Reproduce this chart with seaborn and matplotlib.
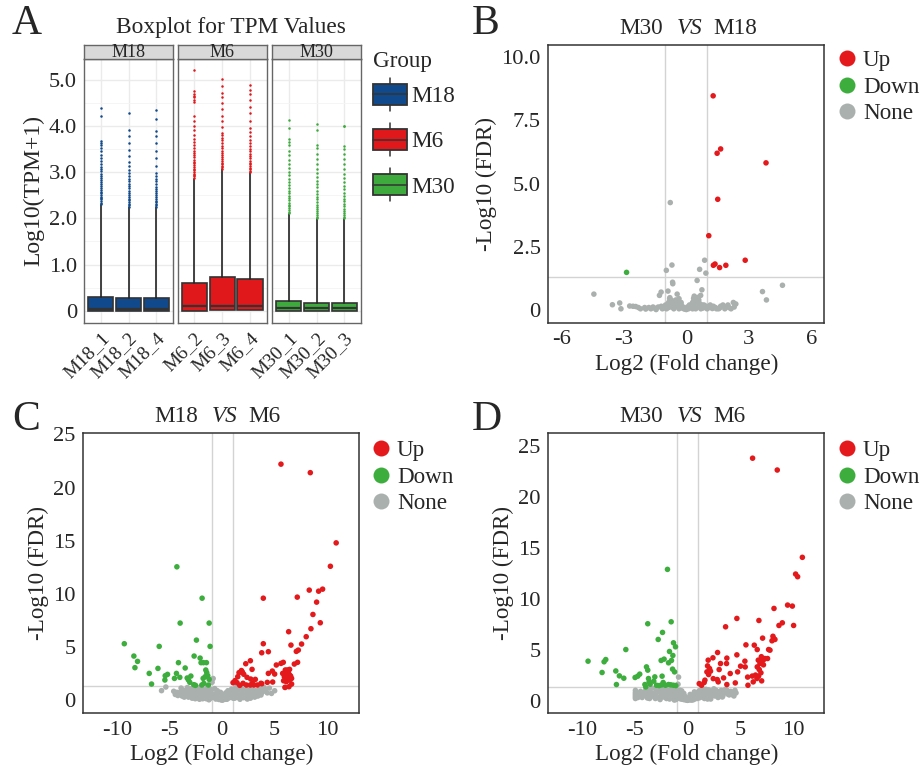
import numpy as np
import pandas as pd
import matplotlib
matplotlib.use("Agg")
import matplotlib.pyplot as plt
import seaborn as sns
from matplotlib.lines import Line2D
from matplotlib.patches import Patch, Rectangle
from matplotlib.legend_handler import HandlerBase
from matplotlib.ticker import MultipleLocator

# ---- panel A: boxplot summary values (log10 TPM+1) ----
groups = ["M18", "M6", "M30"]
samples = {"M18": ["M18_1", "M18_2", "M18_4"],
           "M6": ["M6_2", "M6_3", "M6_4"],
           "M30": ["M30_1", "M30_2", "M30_3"]}
box_q1 = {"M18": [0, 0, 0], "M6": [0, 0.02, 0.02], "M30": [0, 0, 0]}
box_med = {"M18": [0.04, 0.04, 0.04], "M6": [0.11, 0.11, 0.11], "M30": [0.05, 0.05, 0.05]}
box_q3 = {"M18": [0.30, 0.28, 0.28], "M6": [0.61, 0.73, 0.68], "M30": [0.22, 0.17, 0.17]}
box_whishi = {"M18": [2.29, 2.24, 2.24], "M6": [2.86, 3.06, 2.98], "M30": [2.09, 1.99, 1.99]}

m18_1_out = [2.31, 2.34, 2.37, 2.41, 2.44, 2.47, 2.51, 2.55, 2.58, 2.62, 2.66, 2.70, 2.74, 2.79, 2.83,
             2.88, 2.92, 2.97, 3.02, 3.07, 3.12, 3.18, 3.24, 3.31, 3.38, 3.45, 3.52, 3.58, 3.63, 3.67, 4.21, 4.39]
m18_2_out = [2.25, 2.28, 2.32, 2.35, 2.39, 2.43, 2.47, 2.51, 2.56, 2.60, 2.65, 2.70, 2.75, 2.80, 2.86,
             2.92, 2.98, 3.05, 3.13, 3.22, 3.35, 3.49, 3.64, 3.78, 3.92, 4.29]
m18_4_out = [2.25, 2.28, 2.31, 2.35, 2.38, 2.42, 2.46, 2.50, 2.54, 2.59, 2.64, 2.69, 2.74, 2.80, 2.86,
             2.91, 2.99, 3.13, 3.31, 3.47, 3.64, 3.78, 3.89, 4.16, 4.34]
m6_2_out = [2.88, 2.91, 2.94, 2.97, 3.00, 3.04, 3.07, 3.11, 3.15, 3.19, 3.23, 3.27, 3.32, 3.37, 3.42,
            3.47, 3.53, 3.59, 3.65, 3.71, 3.80, 3.92, 4.01, 4.12, 4.22, 4.52, 4.57, 4.62, 4.66, 4.70, 4.75, 5.22]
m6_3_out = [3.08, 3.11, 3.14, 3.17, 3.21, 3.25, 3.29, 3.33, 3.37, 3.42, 3.47, 3.52, 3.57, 3.63, 3.69,
            3.75, 3.81, 3.86, 3.97, 4.10, 4.22, 4.36, 4.50, 4.63, 4.72, 4.86, 5.02]
m6_4_out = [3.00, 3.03, 3.06, 3.10, 3.13, 3.17, 3.21, 3.25, 3.30, 3.35, 3.40, 3.45, 3.51, 3.57, 3.63,
            3.70, 3.78, 3.87, 3.96, 4.12, 4.29, 4.42, 4.57, 4.69, 4.79, 4.88]
m30_1_out = [2.11, 2.14, 2.18, 2.22, 2.26, 2.30, 2.34, 2.39, 2.44, 2.49, 2.54, 2.60, 2.66, 2.72, 2.79,
             2.86, 2.93, 3.01, 3.09, 3.18, 3.27, 3.37, 3.47, 3.58, 3.65, 3.71, 3.96, 4.14]
m30_2_out = [2.01, 2.04, 2.08, 2.12, 2.16, 2.20, 2.25, 2.30, 2.35, 2.41, 2.47, 2.53, 2.60, 2.67, 2.74,
             2.82, 2.90, 2.99, 3.08, 3.18, 3.29, 3.40, 3.52, 3.60, 3.91, 4.05]
m30_3_out = [2.01, 2.04, 2.08, 2.12, 2.16, 2.21, 2.26, 2.31, 2.37, 2.43, 2.49, 2.56, 2.63, 2.71, 2.79,
             2.88, 2.97, 3.07, 3.17, 3.28, 3.39, 3.50, 3.56, 4.00, 4.01]
outliers = {"M18": [m18_1_out, m18_2_out, m18_4_out],
            "M6": [m6_2_out, m6_3_out, m6_4_out],
            "M30": [m30_1_out, m30_2_out, m30_3_out]}
group_colors = {"M18": "#114A8C", "M6": "#E0181B", "M30": "#3EAA3E"}

# ---- volcano points (log2 FC, -log10 FDR) ----
b_up = [(1.29, 8.47), (1.65, 6.37), (1.48, 6.20), (3.83, 5.82), (1.51, 4.38), (1.08, 2.94), (2.83, 1.97),
        (1.30, 1.77), (1.38, 1.82), (1.60, 1.68), (1.90, 1.77)]
b_down = [(-2.87, 1.49)]
b_none = [(-0.77, 4.25), (-0.69, 1.78), (-0.96, 1.57), (0.88, 1.97), (0.64, 1.61), (0.94, 1.46), (0.52, 1.17),
          (-0.66, 1.10), (-0.65, 1.04), (0.75, 0.80), (0.69, 0.58), (-0.88, 0.75), (-1.21, 0.71), (-1.29, 0.58),
          (-0.79, 0.49), (-0.44, 0.63), (-4.44, 0.63), (4.62, 0.98), (3.66, 0.73), (3.85, 0.40), (-3.55, 0.21),
          (-3.20, 0.28), (-3.14, 0.05), (-2.72, 0.16), (-2.56, 0.15), (-2.43, 0.14), (-2.20, 0.05), (-1.95, 0.04),
          (-1.70, 0.05), (-1.50, 0.07), (-1.35, 0.12), (-1.20, 0.15), (-1.05, 0.10), (-0.90, 0.20), (-0.75, 0.28),
          (-0.60, 0.33), (-0.50, 0.25), (-0.40, 0.30), (-0.30, 0.15), (-0.20, 0.08), (-0.10, 0.04), (0.00, 0.02),
          (0.10, 0.05), (0.20, 0.10), (0.30, 0.30), (0.35, 0.46), (0.42, 0.40), (0.50, 0.35), (0.55, 0.20),
          (0.65, 0.12), (0.80, 0.08), (0.95, 0.15), (1.10, 0.10), (1.25, 0.06), (1.40, 0.10), (1.55, 0.05),
          (1.76, 0.20), (1.90, 0.12), (2.05, 0.10), (2.26, 0.30), (2.38, 0.24), (2.30, 0.12), (-0.55, 0.12),
          (-0.95, 0.05), (0.45, 0.05), (0.75, 0.20), (-0.35, 0.45), (-1.60, 0.12), (1.65, 0.15), (-2.00, 0.10),
          (0.25, 0.20), (-0.65, 0.18), (0.40, 0.25), (-0.25, 0.22), (0.60, 0.28), (-0.85, 0.10),
          (-1.15, 0.05), (-1.00, 0.20), (-0.85, 0.30), (-0.70, 0.12), (-0.60, 0.05), (-0.45, 0.15), (-0.35, 0.05),
          (-0.15, 0.12), (0.05, 0.12), (0.15, 0.20), (0.30, 0.05), (0.35, 0.15), (0.45, 0.30), (0.50, 0.10),
          (0.60, 0.40), (0.70, 0.05), (0.85, 0.20), (1.00, 0.05), (1.15, 0.20), (1.30, 0.15), (1.45, 0.05),
          (1.60, 0.08), (1.85, 0.05), (2.00, 0.20), (2.15, 0.05), (-1.45, 0.02), (-1.80, 0.10), (-2.30, 0.10),
          (-0.80, 0.45), (-0.50, 0.40), (0.55, 0.50), (0.65, 0.25), (-0.25, 0.30), (0.38, 0.55), (-0.70, 0.38)]

c_up = [(5.6, 22.2), (8.39, 21.4), (10.85, 14.8), (10.3, 12.6), (8.29, 10.36), (9.18, 10.26), (9.56, 10.45),
        (3.92, 9.6), (7.15, 9.7), (8.99, 9.23), (8.64, 8.07), (9.34, 7.29), (8.45, 6.73), (6.33, 6.45),
        (8.0, 5.98), (3.92, 5.32), (7.56, 5.29), (6.55, 5.19), (7.25, 4.72), (7.06, 4.6), (3.77, 4.47),
        (4.4, 4.57), (7.18, 3.57), (6.87, 3.41), (5.82, 3.57), (5.6, 3.47), (5.16, 3.32), (2.69, 3.72),
        (2.25, 3.44), (4.78, 2.75), (2.85, 2.91), (1.84, 2.8), (1.93, 2.65), (1.61, 2.6), (2.06, 2.45),
        (1.49, 2.22), (2.37, 2.16), (2.72, 2.0), (3.16, 1.97), (4.4, 2.53), (5.0, 2.47), (4.81, 1.72),
        (4.3, 1.69), (3.77, 1.56), (6.01, 2.85), (6.2, 2.85), (6.42, 2.91), (6.11, 2.53), (6.3, 2.6),
        (6.42, 2.38), (5.92, 2.22), (6.11, 2.06), (6.27, 2.16), (6.52, 2.28), (6.61, 2.06), (5.85, 1.84),
        (6.11, 1.75), (6.42, 1.91), (6.61, 1.53), (6.36, 1.28), (5.98, 1.22), (5.76, 2.53), (1.04, 1.66),
        (1.23, 1.85), (1.42, 1.66), (1.68, 1.41), (1.99, 1.6), (2.31, 1.44), (2.69, 1.44), (2.88, 1.6),
        (3.04, 1.44), (3.35, 1.44), (3.7, 1.6)]
c_down = [(-4.3, 12.55), (-1.9, 9.6), (-3.99, 7.26), (-1.23, 7.26), (-9.3, 5.32), (-5.98, 5.07), (-1.14, 5.07),
          (-2.44, 5.66), (-8.39, 4.16), (-8.04, 3.66), (-8.29, 3.07), (-4.15, 3.54), (-2.66, 4.16), (-2.09, 3.97),
          (-2.0, 3.54), (-1.77, 3.54), (-1.49, 3.54), (-6.1, 3.0), (-6.93, 2.53), (-6.71, 1.53), (-3.51, 3.04),
          (-4.34, 2.53), (-4.02, 2.16), (-4.53, 2.06), (-5.19, 2.44), (-5.41, 2.31), (-5.44, 1.91), (-3.32, 2.1),
          (-3.2, 1.91), (-2.97, 2.28), (-3.07, 1.69), (-2.69, 1.47), (-2.53, 1.41), (-1.55, 2.85), (-1.46, 2.6),
          (-1.61, 2.22), (-1.8, 2.06), (-1.36, 2.31), (-1.23, 1.97), (-1.74, 1.59), (-1.93, 1.44), (-1.3, 1.44)]
c_none = [(-5.76, 0.91), (-5.35, 1.25), (-4.45, 0.55), (-4.2, 0.45), (-4.3, 0.75), (-3.9, 1.15), (-3.7, 0.95),
          (-3.5, 0.7), (-3.3, 1.2), (-3.2, 0.5), (-3.0, 0.85), (-2.9, 1.1), (-2.8, 0.4), (-2.6, 0.7), (-2.5, 1.0),
          (-2.4, 0.3), (-2.3, 0.55), (-2.2, 1.2), (-2.1, 0.8), (-2.0, 0.25), (-1.9, 0.5), (-1.8, 1.0), (-1.7, 0.35),
          (-1.6, 0.7), (-1.5, 0.15), (-1.4, 1.25), (-1.3, 0.45), (-1.2, 0.9), (-1.1, 0.2), (-1.0, 0.6),
          (-0.95, 1.7), (-0.85, 2.05), (-0.8, 0.35), (-0.7, 1.1), (-0.6, 0.12), (-0.5, 0.5), (-0.4, 0.25),
          (-0.3, 0.08), (-0.2, 0.3), (-0.1, 0.05), (0.0, 0.02), (0.1, 0.06), (0.2, 0.2), (0.3, 0.1), (0.4, 0.35),
          (0.5, 0.15), (0.6, 0.5), (0.7, 0.25), (0.8, 0.7), (0.9, 1.05), (1.0, 0.4), (1.1, 0.8), (1.2, 0.2),
          (1.3, 1.2), (1.4, 0.55), (1.5, 0.3), (1.6, 0.9), (1.8, 0.45), (1.9, 1.1), (2.0, 0.65), (2.2, 0.3),
          (2.3, 1.0), (2.5, 0.5), (2.6, 0.8), (2.8, 1.15), (3.0, 0.6), (3.2, 0.9), (3.4, 0.4), (3.6, 1.1),
          (3.8, 0.75), (4.1, 0.95), (4.5, 1.15), (4.7, 0.65), (5.0, 0.9), (6.0, 1.2), (-2.7, 1.25), (-1.85, 0.15),
          (-0.45, 0.9), (0.35, 0.7), (1.7, 0.1), (2.7, 0.2), (-3.6, 0.3), (-2.55, 0.15), (-1.25, 0.05),
          (1.25, 0.6), (2.4, 0.12), (3.1, 0.3), (-0.15, 0.55), (0.55, 0.9), (-4.0, 0.6),
          (-3.8, 0.4), (-3.4, 0.95), (-3.1, 0.65), (-2.85, 0.2), (-2.65, 0.95), (-2.45, 0.6), (-2.25, 0.85),
          (-2.05, 0.45), (-1.95, 1.15), (-1.75, 0.65), (-1.65, 0.25), (-1.55, 0.95), (-1.45, 0.5), (-1.35, 0.2),
          (-1.15, 0.65), (-1.05, 1.0), (-0.9, 0.3), (-0.75, 0.6), (-0.65, 0.3), (-0.55, 0.2), (-0.35, 0.4),
          (-0.25, 0.1), (-0.05, 0.15), (0.05, 0.3), (0.15, 0.08), (0.25, 0.4), (0.45, 0.1), (0.65, 0.4),
          (0.75, 0.55), (0.85, 0.3), (0.95, 0.6), (1.05, 0.2), (1.15, 1.0), (1.35, 0.35), (1.45, 0.8),
          (1.55, 0.6), (1.65, 1.15), (1.75, 0.4), (1.85, 0.75), (2.05, 0.25), (2.15, 0.9), (2.35, 0.55),
          (2.45, 1.2), (2.55, 0.3), (2.75, 0.6), (2.9, 0.95), (3.05, 0.45), (3.3, 0.65), (3.5, 0.95), (3.7, 0.5),
          (3.9, 0.85), (4.3, 0.7), (-4.6, 0.85), (-3.95, 0.8), (-3.2, 0.3), (-2.15, 0.1), (-0.15, 0.75),
          (0.15, 0.5), (1.95, 0.35), (4.0, 1.2)]

d_up = [(6.17, 23.76), (8.51, 22.6), (10.89, 14.04), (10.25, 12.4), (10.44, 12.14), (9.49, 9.36), (9.94, 9.26),
        (8.2, 9.03), (4.68, 8.05), (6.77, 7.85), (3.61, 7.23), (8.99, 7.62), (8.67, 7.36), (10.06, 7.36),
        (8.1, 6.3), (8.16, 6.09), (8.29, 5.99), (8.01, 5.86), (7.12, 6.12), (5.54, 5.46), (6.33, 5.43),
        (6.61, 5.0), (7.69, 5.0), (7.82, 4.94), (2.85, 4.71), (2.41, 4.19), (1.96, 3.96), (3.73, 4.16),
        (3.70, 3.63), (3.13, 3.63), (3.0, 3.04), (4.68, 4.48), (5.44, 3.86), (5.03, 3.37), (5.47, 3.3),
        (4.75, 2.81), (4.05, 2.65), (3.42, 2.22), (1.9, 3.4), (2.09, 3.14), (1.84, 2.81), (2.0, 2.55),
        (2.18, 2.88), (2.82, 2.06), (2.91, 1.83), (2.44, 2.15), (1.65, 2.0), (1.58, 1.77), (1.33, 1.5),
        (1.11, 1.66), (3.73, 1.57), (4.53, 1.73), (5.73, 1.5), (5.7, 2.3), (6.14, 2.4), (6.23, 1.83),
        (6.58, 2.16), (6.74, 2.39), (7.03, 1.93), (6.96, 2.72), (6.87, 3.63), (7.03, 3.86), (7.18, 3.96),
        (7.34, 4.12), (7.59, 4.12), (6.71, 3.96), (6.61, 3.3), (6.8, 3.04), (6.45, 2.5), (7.2, 3.5), (7.0, 4.3)]
d_down = [(-1.9, 12.86), (-3.77, 7.53), (-1.55, 7.72), (-2.37, 6.68), (-2.78, 5.99), (-5.85, 5.0), (-1.33, 5.66),
          (-1.14, 5.27), (-1.71, 4.81), (-1.39, 4.42), (-1.52, 3.93), (-2.5, 3.93), (-2.22, 4.06), (-1.8, 3.7),
          (-3.89, 3.3), (-3.77, 2.98), (-1.42, 3.08), (-1.23, 2.81), (-9.43, 3.86), (-7.75, 4.02), (-7.91, 3.8),
          (-8.1, 2.75), (-6.8, 2.9), (-6.46, 2.42), (-6.04, 2.19), (-6.74, 1.57), (-4.97, 2.26), (-4.53, 2.59),
          (-4.72, 2.39), (-3.7, 2.16), (-3.1, 2.32), (-3.64, 1.83), (-3.2, 1.9), (-2.41, 2.39), (-4.04, 1.57),
          (-3.96, 1.34), (-3.54, 1.6), (-2.94, 1.5), (-2.69, 1.47), (-2.44, 1.54), (-2.09, 1.5), (-1.8, 1.57),
          (-1.58, 1.54), (-1.33, 1.5), (-1.11, 1.47), (-2.31, 1.77)]
d_none = [(-4.94, 0.2), (-4.94, 0.35), (-4.94, 0.5), (-4.94, 0.65), (-4.94, 0.8), (-4.94, 1.0), (-4.6, 0.55),
          (-4.3, 0.3), (-4.1, 0.8), (-3.9, 0.5), (-3.7, 1.1), (-3.5, 0.35), (-3.3, 0.7), (-3.1, 1.2), (-3.0, 0.45),
          (-2.8, 0.9), (-2.7, 0.25), (-2.5, 0.6), (-2.4, 1.15), (-2.3, 0.35), (-2.1, 0.8), (-2.0, 0.2), (-1.9, 1.0),
          (-1.8, 0.5), (-1.7, 0.15), (-1.6, 0.7), (-1.5, 1.2), (-1.4, 0.3), (-1.3, 0.9), (-1.2, 0.5), (-1.1, 0.1),
          (-1.0, 0.75), (-0.9, 1.6), (-0.85, 2.3), (-0.8, 0.3), (-0.7, 1.0), (-0.6, 0.15), (-0.5, 0.5),
          (-0.4, 0.25), (-0.3, 0.08), (-0.2, 0.35), (-0.1, 0.05), (0.0, 0.02), (0.1, 0.1), (0.2, 0.3), (0.3, 0.05),
          (0.4, 0.2), (0.5, 0.45), (0.6, 0.1), (0.7, 0.3), (0.8, 0.65), (0.9, 0.2), (1.0, 0.5), (1.1, 0.95),
          (1.2, 0.3), (1.3, 0.7), (1.4, 1.2), (1.5, 0.45), (1.6, 0.2), (1.7, 0.85), (1.8, 0.55), (2.0, 1.05),
          (2.1, 0.35), (2.3, 0.7), (2.5, 1.15), (2.6, 0.45), (2.8, 0.9), (3.0, 0.6), (3.2, 1.0), (3.4, 0.75),
          (3.6, 1.1), (3.8, 0.65), (4.1, 0.9), (4.3, 0.55), (4.6, 0.75), (4.5, 1.0), (-2.2, 1.25), (-3.6, 0.2),
          (0.25, 0.6), (-0.35, 0.7), (1.9, 0.15), (2.9, 0.3), (-1.25, 0.05), (-2.6, 0.1), (0.65, 0.85),
          (-0.55, 0.95), (2.2, 0.15), (3.3, 0.35),
          (-4.7, 0.3), (-4.45, 0.9), (-4.2, 0.55), (-3.95, 1.05), (-3.8, 0.25), (-3.6, 0.75), (-3.4, 1.2),
          (-3.2, 0.5), (-2.95, 0.75), (-2.85, 1.15), (-2.6, 0.35), (-2.45, 0.85), (-2.25, 0.55), (-2.05, 1.1),
          (-1.95, 0.3), (-1.75, 0.6), (-1.65, 1.0), (-1.45, 0.4), (-1.35, 0.7), (-1.15, 0.3), (-1.05, 1.1),
          (-0.95, 0.5), (-0.75, 0.2), (-0.65, 0.6), (-0.45, 0.12), (-0.25, 0.4), (-0.05, 0.2), (0.05, 0.05),
          (0.15, 0.25), (0.35, 0.35), (0.45, 0.05), (0.55, 0.2), (0.75, 0.5), (0.85, 0.4), (0.95, 0.8),
          (1.05, 0.25), (1.15, 0.55), (1.25, 1.0), (1.35, 0.4), (1.55, 0.75), (1.65, 0.35), (1.75, 1.1),
          (1.95, 0.6), (2.15, 0.8), (2.25, 0.4), (2.45, 0.6), (2.7, 1.0), (2.85, 0.55), (3.1, 0.8), (3.35, 0.45),
          (3.55, 0.8), (3.75, 1.0), (3.95, 0.55), (4.2, 0.8), (4.4, 0.45), (-0.15, 0.1), (0.2, 0.15),
          (-1.85, 0.8), (2.4, 0.95), (-3.05, 0.2)]

volcano_colors = {"Up": "#E3191C", "Down": "#3DAE3D", "None": "#A9B0AE"}

sns.set_style("white")
plt.rcParams["font.family"] = ["Liberation Serif", "DejaVu Serif"]
plt.rcParams["axes.unicode_minus"] = False

TICK = 16.2
LAB = 16.7

fig = plt.figure(figsize=(9.21, 7.7), dpi=100)
W, H = 921.0, 770.0


def fx(px):
    return px / W


def fy(py):
    return 1 - py / H


# ---------------- panel A ----------------
facet_left = [84, 177.7, 272]
facet_w = 89
a_top, a_bot = 58.7, 322.7
for gi, g in enumerate(groups):
    ax = fig.add_axes([fx(facet_left[gi]), fy(a_bot), fx(facet_w), (a_bot - a_top) / H])
    stats = []
    for si, s in enumerate(samples[g]):
        stats.append(dict(label=s, q1=box_q1[g][si], med=box_med[g][si], q3=box_q3[g][si],
                          whislo=box_q1[g][si], whishi=box_whishi[g][si], fliers=outliers[g][si]))
    col = group_colors[g]
    ax.bxp(stats, positions=[1, 2, 3], widths=0.9, patch_artist=True, showcaps=False,
           boxprops=dict(facecolor=col, edgecolor="#333333", linewidth=1.2),
           medianprops=dict(color="#333333", linewidth=1.6),
           whiskerprops=dict(color="#222222", linewidth=1.2),
           flierprops=dict(marker="o", markersize=1.8, markerfacecolor=col, markeredgecolor="none"))
    ax.set_xlim(0.4, 3.6)
    ax.set_ylim(-0.26, 5.46)
    ax.set_axisbelow(True)
    ax.yaxis.set_major_locator(MultipleLocator(1))
    ax.yaxis.set_minor_locator(MultipleLocator(0.5))
    ax.grid(True, which="major", color="#EBEBEB", linewidth=1.0)
    ax.grid(True, which="minor", axis="y", color="#F4F4F4", linewidth=0.6)
    ax.tick_params(which="minor", length=0)
    ax.tick_params(which="major", length=3, width=0.9, color="#333333", labelsize=14, pad=2)
    ax.set_xticks([1, 2, 3])
    ax.set_xticklabels(samples[g], rotation=45, ha="right", rotation_mode="anchor")
    for sp in ax.spines.values():
        sp.set_color("#666666")
        sp.set_linewidth(1.0)
    if gi == 0:
        ax.set_yticks([0, 1, 2, 3, 4, 5])
        ax.set_yticklabels(["0", "1.0", "2.0", "3.0", "4.0", "5.0"], fontsize=TICK)
        ax.set_ylabel("Log10(TPM+1)", fontsize=17, labelpad=3)
    else:
        ax.tick_params(axis="y", labelleft=False, length=0)
    # facet strip
    sax = fig.add_axes([fx(facet_left[gi]), fy(a_top), fx(facet_w), 14 / H])
    sax.set_facecolor("#D9D9D9")
    sax.set_xticks([])
    sax.set_yticks([])
    for sp in sax.spines.values():
        sp.set_color("#666666")
        sp.set_linewidth(1.0)
    sax.text(0.5, 0.42, g, ha="center", va="center", fontsize=13, transform=sax.transAxes)

fig.text(fx(231), fy(27), "Boxplot for TPM Values", ha="center", va="center", fontsize=16.8)


class BoxKey(HandlerBase):
    def create_artists(self, legend, orig_handle, xdescent, ydescent, width, height, fontsize, trans):
        cx = -xdescent + width / 2
        y0 = -ydescent
        whisk = Line2D([cx, cx], [y0 - 0.3 * height, y0 + 1.3 * height], color="#333333", lw=1.1,
                       transform=trans)
        rect = Rectangle((-xdescent, y0), width, height, facecolor=orig_handle.get_facecolor(),
                         edgecolor="#333333", lw=1.3, transform=trans)
        med = Line2D([-xdescent, -xdescent + width], [y0 + height / 2] * 2, color="#333333", lw=1.1,
                     transform=trans)
        return [whisk, rect, med]


fig.text(fx(373), fy(61), "Group", ha="left", va="center", fontsize=LAB)
box_handles = [Patch(facecolor=group_colors[g]) for g in groups]
fig.legend(box_handles, groups, loc="upper left", bbox_to_anchor=(fx(373), fy(84)),
           handler_map={Patch: BoxKey()}, frameon=False, fontsize=LAB,
           handlelength=1.47, handleheight=1.0, labelspacing=0.94,
           handletextpad=0.2, borderpad=0, borderaxespad=0)


# ---------------- volcano panels ----------------
def volcano(rect, up, down, none, xlim, ylim, yticks, yticklabels, xticks, left_name, right_name, leg_pos):
    ax = fig.add_axes(rect)
    rows = [(x, y, "None") for x, y in none] + [(x, y, "Down") for x, y in down] + \
           [(x, y, "Up") for x, y in up]
    df = pd.DataFrame(rows, columns=["logFC", "logFDR", "sig"])
    ax.axvline(-1, color="#D3D3D3", lw=1.0, zorder=0)
    ax.axvline(1, color="#D3D3D3", lw=1.0, zorder=0)
    ax.axhline(-np.log10(0.05), color="#D3D3D3", lw=1.0, zorder=0)
    sns.scatterplot(data=df, x="logFC", y="logFDR", hue="sig", hue_order=["None", "Down", "Up"],
                    palette=volcano_colors, s=16, linewidth=0, legend=False, ax=ax, zorder=2)
    ax.set_xlim(*xlim)
    ax.set_ylim(*ylim)
    ax.set_xticks(xticks)
    ax.set_xticklabels([str(t) for t in xticks])
    ax.set_yticks(yticks)
    ax.set_yticklabels(yticklabels)
    ax.tick_params(length=3.5, width=1.0, color="#333333", labelsize=TICK, pad=2)
    for sp in ax.spines.values():
        sp.set_color("#333333")
        sp.set_linewidth(1.1)
    ax.set_xlabel("Log2 (Fold change)", fontsize=LAB, labelpad=3)
    ax.set_ylabel("-Log10 (FDR)", fontsize=LAB, labelpad=3)
    ax.text(0.414, 1.06, left_name, ha="right", va="center", fontsize=LAB, transform=ax.transAxes)
    ax.text(0.512, 1.06, "VS", ha="center", va="center", fontsize=LAB, style="italic",
            transform=ax.transAxes)
    ax.text(0.597, 1.06, right_name, ha="left", va="center", fontsize=LAB, transform=ax.transAxes)
    handles = [Line2D([], [], marker="o", ls="", markersize=11.5, markerfacecolor=volcano_colors[k],
                      markeredgecolor="none") for k in ["Up", "Down", "None"]]
    fig.legend(handles, ["Up", "Down", "None"], loc="upper left", bbox_to_anchor=leg_pos, frameon=False,
               fontsize=LAB, handlelength=0.8, handletextpad=0.3, labelspacing=0.23, borderpad=0,
               borderaxespad=0)
    return ax


volcano([fx(548.3), fy(322.7), fx(276), 277.7 / H], b_up, b_down, b_none, (-6.63, 6.63), (-0.5, 10.48),
        [0, 2.5, 5, 7.5, 10], ["0", "2.5", "5.0", "7.5", "10.0"], [-6, -3, 0, 3, 6], "M30", "M18",
        (fx(837.4), fy(50)))
volcano([fx(83.3), fy(713.3), fx(276), 280 / H], c_up, c_down, c_none, (-13.2, 13.05), (-1.22, 25.1),
        [0, 5, 10, 15, 20, 25], ["0", "5", "10", "15", "20", "25"], [-10, -5, 0, 5, 10], "M18", "M6",
        (fx(371.4), fy(440)))
volcano([fx(548.3), fy(713.3), fx(276), 280 / H], d_up, d_down, d_none, (-13.2, 12.97), (-1.25, 26.2),
        [0, 5, 10, 15, 20, 25], ["0", "5", "10", "15", "20", "25"], [-10, -5, 0, 5, 10], "M30", "M6",
        (fx(837.4), fy(440)))

# panel letters
for letter, (px, py) in {"A": (12, 24), "B": (472, 24), "C": (12, 420), "D": (472, 420)}.items():
    fig.text(fx(px), fy(py), letter, ha="left", va="center", fontsize=30)

fig.savefig("out.png", dpi=100)
